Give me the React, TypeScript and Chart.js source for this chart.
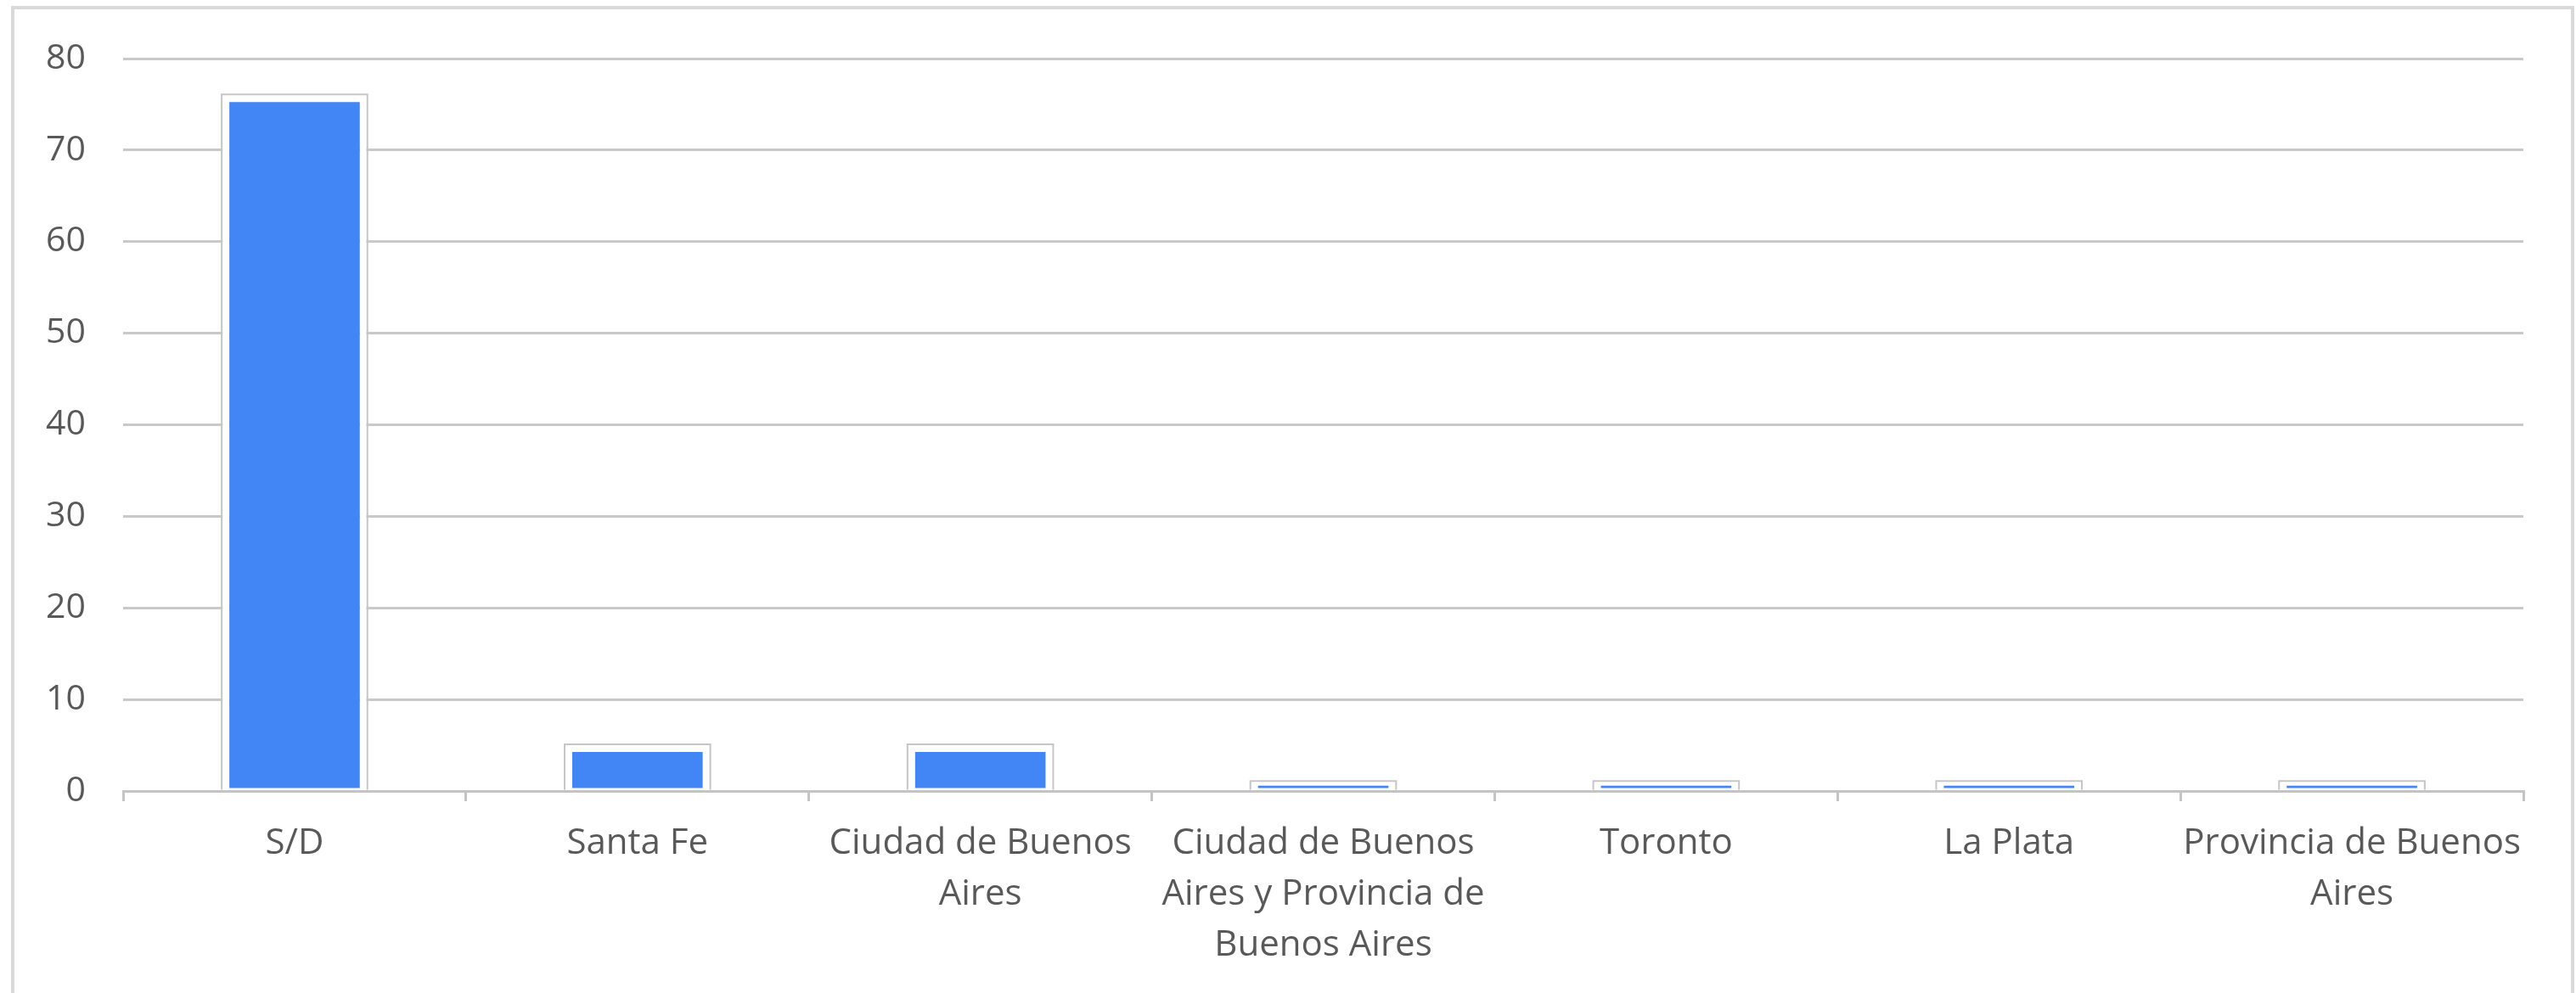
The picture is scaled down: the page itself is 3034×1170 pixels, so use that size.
import React, { useEffect, useRef } from "react";
import { Chart, registerables } from "chart.js";

Chart.register(...registerables);

const categories: (string | string[])[] = [
  "S/D",
  "Santa Fe",
  ["Ciudad de Buenos", "Aires"],
  ["Ciudad de Buenos", "Aires y Provincia de", "Buenos Aires"],
  "Toronto",
  "La Plata",
  ["Provincia de Buenos", "Aires"],
];
const values: number[] = [76, 5, 5, 1, 1, 1, 1];
const yMin = 0;
const yMax = 80;
const yStep = 10;

const FONT = "'Open Sans', 'DejaVu Sans', sans-serif";
const TEXT = "#595959";

const barOutline = {
  id: "barOutline",
  afterDatasetsDraw(chart: any) {
    const ctx = chart.ctx;
    const meta = chart.getDatasetMeta(0);
    ctx.save();
    ctx.strokeStyle = "#c6c6c6";
    ctx.lineWidth = 2;
    meta.data.forEach((el: any) => {
      const { x, y, base, width } = el.getProps(["x", "y", "base", "width"], true);
      const l = x - width / 2 - 1;
      const r = x + width / 2 + 1;
      const t = y - 1;
      ctx.beginPath();
      ctx.moveTo(l, base);
      ctx.lineTo(l, t);
      ctx.lineTo(r, t);
      ctx.lineTo(r, base);
      ctx.stroke();
    });
    ctx.restore();
  },
};

export default function App() {
  const ref = useRef<HTMLCanvasElement>(null);
  useEffect(() => {
    if (!ref.current) return;
    const chart = new Chart(ref.current, {
      type: "bar",
      data: {
        labels: categories,
        datasets: [
          {
            data: values,
            backgroundColor: "#4285f4",
            borderColor: "#ffffff",
            borderWidth: { top: 8, left: 8, right: 8, bottom: 2 },
            borderSkipped: false,
            categoryPercentage: 1,
            barPercentage: 0.42,
          },
        ],
      },
      plugins: [barOutline],
      options: {
        responsive: false,
        animation: false,
        maintainAspectRatio: false,
        layout: { padding: { left: 17, right: 62, top: 69, bottom: 0 } },
        plugins: { legend: { display: false }, tooltip: { enabled: false } },
        scales: {
          x: {
            offset: true,
            border: { display: true, color: "#c4c4c4", width: 3 },
            grid: {
              offset: true,
              drawOnChartArea: false,
              drawTicks: true,
              tickLength: 12,
              color: "#c4c4c4",
              lineWidth: 3,
            },
            ticks: {
              color: TEXT,
              font: { family: FONT, size: 42, lineHeight: 1.43 },
              padding: 20,
              maxRotation: 0,
              autoSkip: false,
            },
            afterFit: (s: any) => {
              s.height = 1170 - 932;
            },
          },
          y: {
            min: yMin,
            max: yMax,
            border: { display: false },
            grid: { color: "#c9c9c9", lineWidth: 3, drawTicks: false },
            ticks: {
              stepSize: yStep,
              color: TEXT,
              font: { family: FONT, size: 41 },
              padding: 44,
            },
            afterFit: (s: any) => {
              s.width = 128;
            },
          },
        },
      },
    });
    return () => chart.destroy();
  }, []);
  return (
    <div style={{ position: "fixed", left: 0, top: 0, width: 3034, height: 1170, background: "#fff" }}>
      <div
        style={{
          position: "absolute",
          left: 13,
          top: 7,
          width: 3032 - 13 - 8,
          height: 1200,
          borderLeft: "4px solid #d9d9d9",
          borderTop: "4px solid #d9d9d9",
          borderRight: "4px solid #d9d9d9",
        }}
      />
      <canvas ref={ref} width={3034} height={1170} style={{ position: "absolute", left: 0, top: 0 }} />
    </div>
  );
}
